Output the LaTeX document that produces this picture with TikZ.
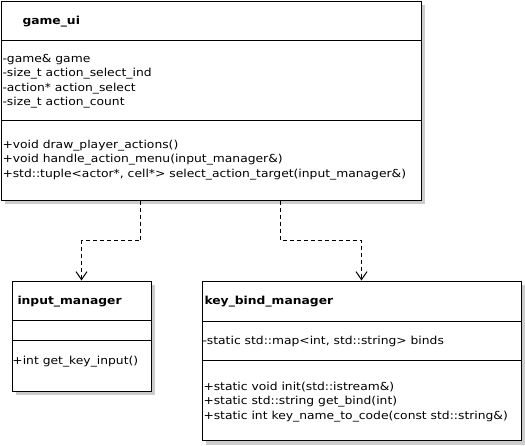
\documentclass[tikz,border=0pt]{standalone}
\usepackage{fontspec}
\setmainfont{DejaVu Sans}[FakeStretch=1.12]
\usetikzlibrary{arrows.meta,shadows}

\begin{document}
\begin{tikzpicture}[x=1pt,y=-1pt,line width=1pt,
		every node/.style={font=\fontsize{11}{14}\selectfont,inner sep=0pt},
		classbox/.style={draw,anchor=north west,fill=white,drop shadow={shadow xshift=4pt,shadow yshift=-4pt,fill=black!20,opacity=1}},
		classname/.style={anchor=base west,font=\fontsize{11}{14}\selectfont\bfseries},
		member/.style={anchor=base west},
		dep/.style={dashed,dash pattern=on 4pt off 3pt,-{Straight Barb[length=8pt,width=11pt,line width=1pt]}}]
	\useasboundingbox (0,0) rectangle (525,445);
	% classes
	\node[classbox,minimum width=420pt,minimum height=199pt] (game_ui) at (0.5,0.5) {};
	\node[classbox,minimum width=139pt,minimum height=110pt] (input_manager) at (11.5,280.5) {};
	\node[classbox,minimum width=319pt,minimum height=159.5pt] (key_bind_manager) at (201.5,280.5) {};
	% compartments
	\draw (game_ui.west |- 0,40.5) -- (game_ui.east |- 0,40.5);
	\draw (game_ui.west |- 0,120.5) -- (game_ui.east |- 0,120.5);
	\draw (input_manager.west |- 0,320.5) -- (input_manager.east |- 0,320.5);
	\draw (input_manager.west |- 0,340.5) -- (input_manager.east |- 0,340.5);
	\draw (key_bind_manager.west |- 0,321) -- (key_bind_manager.east |- 0,321);
	\draw (key_bind_manager.west |- 0,360.5) -- (key_bind_manager.east |- 0,360.5);
	% names
	\node[classname] (game_ui-name) at (22,24) {game\_ui};
	\node[classname] (input_manager-name) at (17,304) {input\_manager};
	\node[classname] (key_bind_manager-name) at (204,304) {key\_bind\_manager};
	% members
	\foreach \txt [count=\i] in {-game\& game,-size\_t action\_select\_ind,-action* action\_select,-size\_t action\_count}
		\node[member] (game_ui-attr\i) at (2,{62+14.5*(\i-1)}) {\txt};
	\foreach \txt [count=\i] in {+void draw\_player\_actions(),+void handle\_action\_menu(input\_manager\&),{+std::tuple<actor*, cell*> select\_action\_target(input\_manager\&)}}
		\node[member] (game_ui-op\i) at (2,{148+14.6*(\i-1)}) {\txt};
	\node[member] (input_manager-op1) at (12,364.5) {+int get\_key\_input()};
	\node[member] (key_bind_manager-attr1) at (202,344) {-static std::map<int, std::string> binds};
	\foreach \txt [count=\i] in {+static void init(std::istream\&),+static std::string get\_bind(int),+static int key\_name\_to\_code(const std::string\&)}
		\node[member] (key_bind_manager-op\i) at (203,{390+14.5*(\i-1)}) {\txt};
	% dependencies
	\coordinate (bend_a) at (140.5,240.5);
	\coordinate (bend_b) at (280.5,240.5);
	\draw[dep] (game_ui.south -| bend_a) -- (bend_a) -| (input_manager.north);
	\draw[dep] (game_ui.south -| bend_b) -- (bend_b) -| (key_bind_manager.north);
\end{tikzpicture}
\end{document}
